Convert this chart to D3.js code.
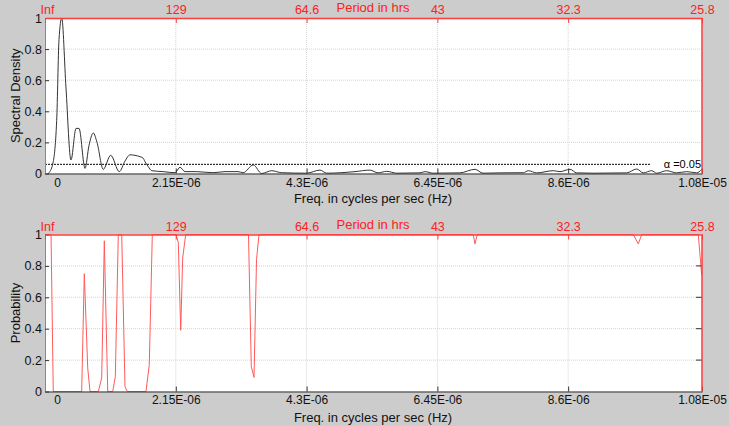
<!DOCTYPE html>
<html>
<head>
<meta charset="utf-8">
<script src="https://cdnjs.cloudflare.com/ajax/libs/d3/7.8.5/d3.min.js"></script>
<style>
  html, body { margin: 0; padding: 0; background: #cccccc; }
  svg { display: block; font-family: "Liberation Sans", Arial, sans-serif; }
</style>
</head>
<body>
<div id="chart"></div>
<script>
// frequency in units of 1E-06 Hz
const freqTicks = [0, 2.15, 4.3, 6.45, 8.6, 10.8];
const freqLabels = ["0", "2.15E-06", "4.3E-06", "6.45E-06", "8.6E-06", "1.08E-05"];
const periodLabels = ["Inf", "129", "64.6", "43", "32.3", "25.8"];
const yTicks = [0, 0.2, 0.4, 0.6, 0.8, 1];

// spectral density (top panel)
const psdFreq = [0.054, 0.127, 0.192, 0.230, 0.275, 0.345, 0.427, 0.510, 0.559, 0.658,
  0.723, 0.794, 0.855, 0.958, 1.080, 1.221, 1.315, 1.397, 1.562, 1.611,
  1.644, 1.698, 1.754, 1.945, 2.137, 2.219, 2.301, 2.494, 2.762, 2.959,
  3.173, 3.255, 3.424, 3.562, 3.727, 3.891, 4.302, 4.520, 4.631, 5.096,
  5.342, 5.474, 5.617, 5.781, 6.164, 6.246, 6.378, 6.822, 7.068, 7.200,
  7.479, 7.862, 7.945, 8.083, 8.356, 8.466, 8.630, 8.740, 9.008, 9.562,
  9.726, 9.835, 9.973, 10.055, 10.220, 10.384, 10.548, 10.713, 10.795];
const psdValue = [0, 0.06, 0.34, 0.86, 1.0, 0.55, 0.087, 0.29, 0.29, 0.033,
  0.18, 0.26, 0.2, 0.027, 0.117, 0.012, 0.08, 0.12, 0.108, 0.1,
  0.076, 0.044, 0.018, 0.012, 0.005, 0.04, 0.012, 0.012, 0.005, 0.012,
  0.012, 0.005, 0.055, 0, 0.018, 0.005, 0.002, 0.022, 0.002, 0.012,
  0.022, 0.004, 0.014, 0.002, 0.004, 0.012, 0.002, 0.004, 0.027, 0.002,
  0.004, 0.005, 0.018, 0.004, 0.018, 0.012, 0.027, 0.004, 0.002, 0.004,
  0.029, 0.004, 0.018, 0.002, 0.018, 0.004, 0.012, 0.004, 0.027];

// significance level line
const alphaLevel = 0.059;
const alphaEnd = 9.95;
const alphaText = "\u03b1 =0.05";

// probability (bottom panel)
const probFreq = [0, 0.099, 0.136, 0.603, 0.646, 0.702, 0.740, 0.876, 0.932, 0.975,
  1.031, 1.113, 1.156, 1.205, 1.261, 1.315, 1.353, 1.660, 1.714, 1.764,
  2.153, 2.191, 2.231, 2.263, 2.313, 3.345, 3.391, 3.436, 3.477, 3.518,
  7.040, 7.068, 7.106, 9.671, 9.753, 9.809, 10.739, 10.795];
const probValue = [1, 1, 0, 0, 0.75, 0.15, 0, 0, 0.085, 0.96,
  0, 0, 0.095, 1, 1, 0.03, 0, 0, 0.17, 1,
  1, 0.95, 0.39, 0.85, 1, 1, 0.16, 0.09, 0.84, 1,
  1, 0.94, 1, 1, 0.94, 1, 1, 0.74];

const W = 729, H = 426;
const left = 45, right = 702;

const svg = d3.select("#chart").append("svg")
  .attr("width", W)
  .attr("height", H);

svg.append("rect").attr("width", W).attr("height", H).attr("fill", "#cccccc");

const x = d3.scaleLinear().domain([0, 10.8]).range([left, right]);

function drawPanel (top, bottom, yLabel, freq, vals, opts) {
  const y = d3.scaleLinear().domain([0, 1]).range([bottom, top]);
  const g = svg.append("g");

  g.append("rect")
    .attr("x", left).attr("y", top)
    .attr("width", right - left).attr("height", bottom - top)
    .attr("fill", "#ffffff");

  // grid
  g.selectAll(".hgrid").data(yTicks.slice(1, -1)).enter().append("line")
    .attr("x1", left).attr("x2", right)
    .attr("y1", d => y(d)).attr("y2", d => y(d))
    .attr("stroke", "#d4d4d4").attr("stroke-dasharray", "1,1");
  g.selectAll(".vgrid").data(freqTicks.slice(1, -1)).enter().append("line")
    .attr("x1", d => x(d)).attr("x2", d => x(d))
    .attr("y1", top).attr("y2", bottom)
    .attr("stroke", "#d4d4d4").attr("stroke-dasharray", "1,1");

  const pts = freq.map((f, i) => [f, vals[i]]);
  const line = d3.line()
    .x(d => x(d[0]))
    .y(d => y(d[1]))
    .curve(opts.curve);

  if (opts.alpha) {
    g.append("line")
      .attr("x1", x(0)).attr("x2", x(alphaEnd))
      .attr("y1", y(alphaLevel)).attr("y2", y(alphaLevel))
      .attr("stroke", "#000").attr("stroke-width", 1)
      .attr("stroke-dasharray", "2,1");
    g.append("text")
      .attr("x", right - 1).attr("y", y(alphaLevel) + 4)
      .attr("text-anchor", "end")
      .attr("font-size", 11)
      .attr("fill", "#000")
      .text(alphaText);
  }

  g.append("path")
    .datum(pts)
    .attr("fill", "none")
    .attr("stroke", opts.color)
    .attr("stroke-width", opts.width)
    .attr("d", line);

  // bottom axis
  const xa = g.append("g")
    .attr("transform", `translate(0,${bottom})`)
    .call(d3.axisBottom(x).tickValues(freqTicks)
      .tickFormat((d, i) => freqLabels[i])
      .tickSizeInner(-5).tickSizeOuter(0).tickPadding(opts.pad));
  xa.select(".domain").attr("stroke", "#333");
  xa.selectAll("line").attr("stroke", "#333");
  xa.selectAll("text").attr("font-size", 12).attr("fill", "#111")
    .attr("dx", (d, i) => i === 0 ? 12 : 0);

  // left axis
  const ya = g.append("g")
    .attr("transform", `translate(${left},0)`)
    .call(d3.axisLeft(y).tickValues(yTicks).tickFormat(d3.format("~g"))
      .tickSizeInner(-4).tickSizeOuter(0).tickPadding(3));
  ya.select(".domain").attr("stroke", "#888");
  ya.selectAll("line").attr("stroke", "#333");
  ya.selectAll("text").attr("font-size", 12.5).attr("fill", "#111");

  if (opts.rightTicks) {
    g.selectAll(".rtick").data(yTicks.slice(1, -1)).enter().append("line")
      .attr("x1", right - 6).attr("x2", right)
      .attr("y1", d => y(d)).attr("y2", d => y(d))
      .attr("stroke", "#333");
  }

  // top axis (period)
  const ta = g.append("g")
    .attr("transform", `translate(0,${top})`)
    .call(d3.axisTop(x).tickValues(freqTicks)
      .tickFormat((d, i) => periodLabels[i])
      .tickSizeInner(-5).tickSizeOuter(0).tickPadding(4));
  ta.select(".domain").attr("stroke", "#ff3b3b").attr("stroke-width", 1.5);
  ta.selectAll("line").attr("stroke", "#ff3b3b");
  ta.selectAll("text").attr("font-size", 12.5).attr("fill", "#ff2020")
    .attr("dx", (d, i) => i === 0 ? 2 : 0);

  // right border
  g.append("line")
    .attr("x1", right).attr("x2", right)
    .attr("y1", top).attr("y2", bottom)
    .attr("stroke", "#ff3b3b").attr("stroke-width", 1.5);

  svg.append("text")
    .attr("x", 373).attr("y", top - 6)
    .attr("text-anchor", "middle")
    .attr("font-size", 13).attr("fill", "#ff2020")
    .text("Period in hrs");

  svg.append("text")
    .attr("x", 373).attr("y", bottom + opts.labelGap)
    .attr("text-anchor", "middle")
    .attr("font-size", 13).attr("fill", "#111")
    .text("Freq. in cycles per sec (Hz)");

  svg.append("text")
    .attr("transform", `translate(20,${(top + bottom) / 2}) rotate(-90)`)
    .attr("text-anchor", "middle")
    .attr("font-size", 13).attr("fill", "#111")
    .text(yLabel);
}

drawPanel(18, 173.5, "Spectral Density", psdFreq, psdValue,
  { color: "#333333", width: 1, curve: d3.curveMonotoneX, alpha: true, pad: 5, labelGap: 29, rightTicks: false });
drawPanel(234.5, 391.5, "Probability", probFreq, probValue,
  { color: "#ff5a5a", width: 1, curve: d3.curveLinear, alpha: false, pad: 4, labelGap: 30, rightTicks: true });
</script>
</body>
</html>
